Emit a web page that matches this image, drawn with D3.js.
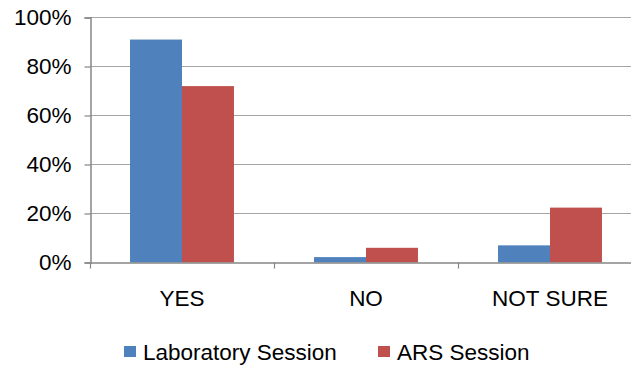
<!DOCTYPE html>
<html>
<head>
<meta charset="utf-8">
<script src="https://cdn.jsdelivr.net/npm/d3@7"></script>
<style>
  body { margin: 0; background: #fff; }
  text { font-family: "Liberation Sans", Arial, sans-serif; fill: #000; }
</style>
</head>
<body>
<div id="chart"></div>
<script>
const categories = ["YES", "NO", "NOT SURE"];
const seriesNames = ["Laboratory Session", "ARS Session"];
const labValues = [0.91, 0.022, 0.07];
const arsValues = [0.72, 0.06, 0.224];
const yTicks = [0, 0.2, 0.4, 0.6, 0.8, 1];
const colors = ["#4F81BD", "#C0504D"];

const width = 631, height = 380;
const svg = d3.select("#chart").append("svg")
    .attr("width", width)
    .attr("height", height);

const x = d3.scaleBand().domain(categories).range([90, 642]);
const x1 = d3.scaleBand().domain(seriesNames).range([0, x.bandwidth()]).paddingOuter(0.77);
const y = d3.scaleLinear().domain([0, 1]).range([262.5, 17.5]);

// gridlines
svg.append("g")
    .selectAll("line")
    .data(yTicks.slice(1))
    .enter().append("line")
    .attr("x1", 90).attr("x2", width)
    .attr("y1", d => y(d)).attr("y2", d => y(d))
    .attr("stroke", "#a6a6a6")
    .attr("stroke-width", 1.2);

// bars
const rows = categories.map((c, i) => ({ cat: c, values: [labValues[i], arsValues[i]] }));
svg.append("g")
    .selectAll("g")
    .data(rows)
    .enter().append("g")
    .attr("transform", d => `translate(${x(d.cat)},0)`)
    .selectAll("rect")
    .data(d => d.values.map((v, j) => ({ name: seriesNames[j], v: v, j: j })))
    .enter().append("rect")
    .attr("x", d => x1(d.name))
    .attr("width", x1.bandwidth())
    .attr("y", d => y(d.v))
    .attr("height", d => y(0) - y(d.v))
    .attr("fill", d => colors[d.j]);

// y axis
const yAxis = svg.append("g")
    .attr("transform", "translate(90.5,0)")
    .call(d3.axisLeft(y).tickValues(yTicks).tickFormat(d3.format(".0%")).tickSize(6).tickPadding(13));
yAxis.select(".domain").attr("stroke", "#868686").attr("stroke-width", 1.5);
yAxis.selectAll(".tick line").attr("stroke", "#868686").attr("stroke-width", 1.2);
yAxis.selectAll(".tick text").attr("font-size", "22.5px").attr("fill", "#000");

// x axis
const xAxis = svg.append("g")
    .attr("transform", `translate(0,${y(0)})`)
    .call(d3.axisBottom(x).tickSize(0).tickPadding(28));
xAxis.select(".domain").attr("stroke", "#868686").attr("stroke-width", 1.5);
xAxis.selectAll(".tick text").attr("font-size", "22.5px").attr("fill", "#000");
svg.append("g")
    .selectAll("line")
    .data(categories)
    .enter().append("line")
    .attr("x1", d => x(d) + 0.5).attr("x2", d => x(d) + 0.5)
    .attr("y1", y(0)).attr("y2", y(0) + 6)
    .attr("stroke", "#868686")
    .attr("stroke-width", 1.2);

// legend
const legendX = [124, 378];
const legend = svg.append("g")
    .selectAll("g")
    .data(seriesNames)
    .enter().append("g")
    .attr("transform", (d, i) => `translate(${legendX[i]},346)`);
legend.append("rect")
    .attr("width", 12).attr("height", 11)
    .attr("fill", (d, i) => colors[i]);
legend.append("text")
    .attr("x", 19).attr("y", 14)
    .attr("font-size", "22.5px")
    .text(d => d);
</script>
</body>
</html>
